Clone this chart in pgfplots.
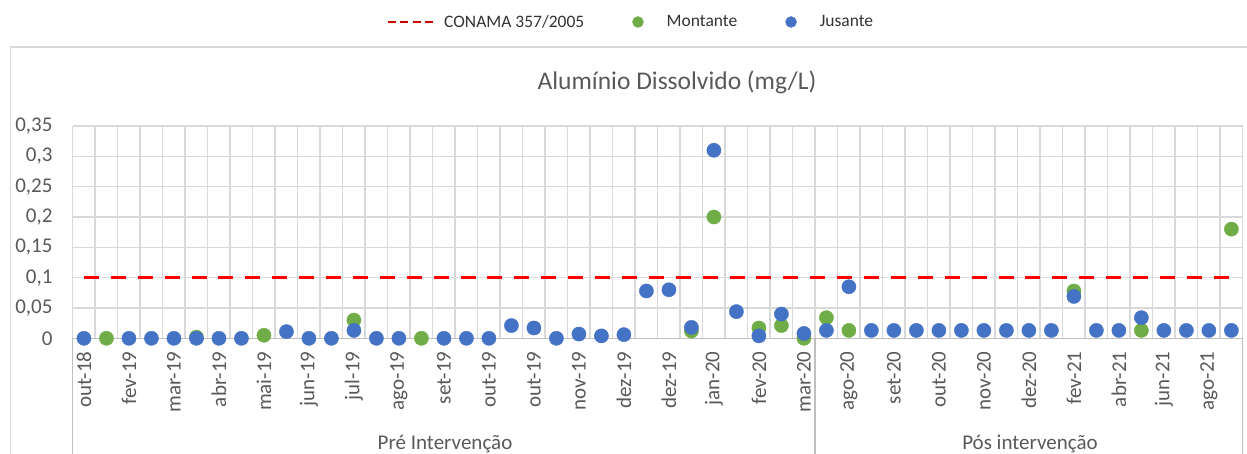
\documentclass[border=0pt]{standalone}
\usepackage{pgfplots}
\pgfplotsset{compat=1.18}
\usepackage{fontspec}
\setmainfont{Carlito}
\definecolor{jus}{HTML}{4472C4}
\definecolor{mon}{HTML}{70AD47}
\definecolor{gridc}{HTML}{D9D9D9}
\definecolor{axc}{HTML}{BFBFBF}
\definecolor{txt}{HTML}{595959}
\definecolor{legt}{HTML}{333333}
\definecolor{conama}{HTML}{FF0000}
\definecolor{conamaleg}{HTML}{D00000}
\begin{document}
\begin{tikzpicture}
\begin{axis}[
 at={(72.7bp,115.7bp)}, anchor=south west,
 scale only axis, width=1170bp, height=212.3bp,
 xmin=-0.5, xmax=51.5, ymin=0, ymax=0.35,
 clip=false,
 axis line style={draw=none},
 xtick={0,2,...,50},
 xticklabels={out-18,fev-19,mar-19,abr-19,mai-19,jun-19,jul-19,ago-19,set-19,out-19,out-19,nov-19,dez-19,dez-19,jan-20,fev-20,mar-20,ago-20,set-20,out-20,nov-20,dez-20,fev-21,abr-21,jun-21,ago-21},
 minor xtick={-0.5,0.5,1.5,2.5,3.5,4.5,5.5,6.5,7.5,8.5,9.5,10.5,11.5,12.5,13.5,14.5,15.5,16.5,17.5,18.5,19.5,20.5,21.5,22.5,23.5,24.5,25.5,26.5,27.5,28.5,29.5,30.5,31.5,32.5,33.5,34.5,35.5,36.5,37.5,38.5,39.5,40.5,41.5,42.5,43.5,44.5,45.5,46.5,47.5,48.5,49.5,50.5,51.5},
 xminorgrids=true, xmajorgrids=false,
 ytick={0,0.05,0.1,0.15,0.2,0.25,0.3,0.35},
 yticklabels={0,{0,05},{0,1},{0,15},{0,2},{0,25},{0,3},{0,35}},
 ymajorgrids=true,
 grid style={gridc, line width=1.5bp},
 minor grid style={gridc, line width=1.5bp},
 major tick length=0pt, minor tick length=0pt,
 tick style={draw=none},
 xticklabel style={rotate=90, anchor=east, inner sep=0pt, font=\fontsize{21bp}{24bp}\selectfont, text=txt},
 xticklabel shift=13bp,
 yticklabel style={anchor=east, inner sep=0pt, font=\fontsize{21bp}{24bp}\selectfont, text=txt},
 yticklabel shift=20bp,
 legend columns=3,
 legend style={at={(0.2684,1.4899)}, anchor=west, draw=none, fill=none, inner sep=0pt, outer sep=0pt,
   font=\fontsize{17.5bp}{20bp}\selectfont, text=legt, nodes={inner sep=0pt},
   /tikz/every odd column/.append style={column sep=9bp},
   /tikz/every even column/.append style={column sep=48bp}},
]
\draw[axc, line width=1.5bp] (axis cs:-0.5,0) -- (axis cs:51.5,0);
\draw[axc, line width=1.5bp] (axis cs:-0.5,0) -- (axis cs:-0.5,-0.2);
\draw[axc, line width=1.5bp] (axis cs:32.5,0) -- (axis cs:32.5,-0.2);
\draw[axc, line width=1.5bp] (axis cs:51.5,0) -- (axis cs:51.5,-0.2);
\addplot[conama, line width=3.5bp, dash pattern=on 15bp off 11.9bp,
  legend image code/.code={\draw[line width=2.5bp, dash pattern=on 8bp off 4.5bp, color=conamaleg] (0bp,0bp) -- (46bp,0bp);}]
  coordinates {(0,0.1) (51,0.1)};
\addlegendentry{CONAMA 357/2005}
\addplot[only marks, mark=*, mark size=7.1bp, color=mon, mark options={fill=mon, draw=mon},
  legend image code/.code={\fill[mon] (0bp,0bp) circle (5.5bp); \path (19.5bp,0bp);}]
  coordinates {(1,0) (5,0.002) (8,0.005) (12,0.03) (15,0) (27,0.012) (28,0.2) (30,0.017) (31,0.021) (32,0) (33,0.034) (34,0.013) (44,0.078) (47,0.013) (51,0.18)};
\addlegendentry{Montante}
\addplot[only marks, mark=*, mark size=7.1bp, color=jus, mark options={fill=jus, draw=jus},
  legend image code/.code={\fill[jus] (0bp,0bp) circle (5.5bp); \path (19.5bp,0bp);}]
  coordinates {(0,0) (2,0) (3,0) (4,0) (5,0) (6,0) (7,0) (9,0.011) (10,0) (11,0) (12,0.013) (13,0) (14,0)
  (16,0) (17,0) (18,0) (19,0.021) (20,0.017) (21,0) (22,0.007) (23,0.004) (24,0.006) (25,0.078) (26,0.080)
  (27,0.018) (28,0.31) (29,0.044) (30,0.004) (31,0.04) (32,0.008) (33,0.013) (34,0.085) (35,0.013) (36,0.013)
  (37,0.013) (38,0.013) (39,0.013) (40,0.013) (41,0.013) (42,0.013) (43,0.013) (44,0.069) (45,0.013) (46,0.013)
  (47,0.034) (48,0.013) (49,0.013) (50,0.013) (51,0.013)};
\addlegendentry{Jusante}
\end{axis}
\node[anchor=base, text=txt, font=\fontsize{25.5bp}{30bp}\selectfont, inner sep=0pt] at (677bp,364bp) {Alumínio Dissolvido (mg/L)};
\node[anchor=base, text=txt, font=\fontsize{21bp}{24bp}\selectfont, inner sep=0pt] at (445bp,5bp) {Pré Intervenção};
\node[anchor=base, text=txt, font=\fontsize{21bp}{24bp}\selectfont, inner sep=0pt] at (1030bp,5bp) {Pós intervenção};
\draw[gridc, line width=1.5bp] (10.7bp,-5bp) -- (10.7bp,407bp) -- (1260bp,407bp);
\pgfresetboundingbox
\path[use as bounding box] (0,0) rectangle (1247bp,454bp);
\end{tikzpicture}
\end{document}
